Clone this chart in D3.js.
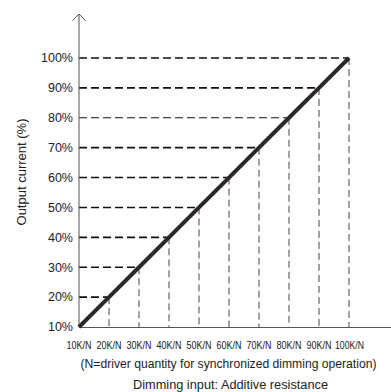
<!DOCTYPE html>
<html><head><meta charset="utf-8">
<script src="https://cdn.jsdelivr.net/npm/d3@7"></script>
<style>body{margin:0;background:#fff}svg{display:block}</style>
</head><body><div id="c"></div>
<script>
const resistance = [10,20,30,40,50,60,70,80,90,100];
const xLabels = ["10K/N","20K/N","30K/N","40K/N","50K/N","60K/N","70K/N","80K/N","90K/N","100K/N"];
const current = [10,20,30,40,50,60,70,80,90,100];
const yLabels = ["10%","20%","30%","40%","50%","60%","70%","80%","90%","100%"];
const hThick = [false,true,true,true,true,true,true,false,true,true];

const W=391,H=392;
const svg=d3.select("#c").append("svg").attr("width",W).attr("height",H);
const x=d3.scaleLinear().domain([10,100]).range([79,349]);
const y=d3.scaleLinear().domain([10,100]).range([327,58]);
const FONT="Liberation Sans, Arial, sans-serif";

// horizontal dashed guides
svg.selectAll(".hg").data(current.slice(1)).enter().append("line")
 .attr("x1",x(10)).attr("x2",(d,i)=>x(resistance[i+1])).attr("y1",d=>y(d)).attr("y2",d=>y(d))
 .attr("stroke","#111").attr("stroke-width",(d,i)=>hThick[i+1]?1.6:1)
 .attr("stroke-dasharray","8,4");
// vertical dashed guides
svg.selectAll(".vg").data(resistance.slice(1)).enter().append("line")
 .attr("x1",d=>x(d)).attr("x2",d=>x(d)).attr("y1",(d,i)=>y(current[i+1])).attr("y2",y(10))
 .attr("stroke","#444").attr("stroke-width",1).attr("stroke-dasharray","7,4");

// axes
svg.append("line").attr("x1",79).attr("x2",79).attr("y1",14).attr("y2",327).attr("stroke","#555").attr("stroke-width",1);
svg.append("path").attr("d","M72.5,20.5 L79,14 L85.5,20.5").attr("fill","none").attr("stroke","#555").attr("stroke-width",1);
svg.append("line").attr("x1",79).attr("x2",391).attr("y1",327.5).attr("y2",327.5).attr("stroke","#555").attr("stroke-width",1);

// main line
const line=d3.line().x(d=>x(d[0])).y(d=>y(d[1]));
svg.append("path").datum(resistance.map((r,i)=>[r,current[i]])).attr("d",line)
 .attr("fill","none").attr("stroke","#2e2727").attr("stroke-width",4);

// y tick labels
svg.selectAll(".yl").data(current).enter().append("text")
 .attr("x",73).attr("y",d=>y(d)).attr("dy","0.35em").attr("text-anchor","end")
 .attr("font-family",FONT).attr("font-size",12.5).attr("fill","#222")
 .text((d,i)=>yLabels[i]);
// x tick labels
svg.selectAll(".xl").data(resistance).enter().append("text")
 .attr("x",(d,i)=>x(d)+(xLabels[i].length>5?0.5:0)).attr("y",349).attr("text-anchor","middle")
 .attr("font-family",FONT).attr("font-size",11).attr("fill","#222")
 .attr("textLength",(d,i)=>xLabels[i].length>5?29:25).attr("lengthAdjust","spacingAndGlyphs")
 .text((d,i)=>xLabels[i]);

svg.append("text").attr("x",228.5).attr("y",368).attr("text-anchor","middle")
 .attr("font-family",FONT).attr("font-size",12.5).attr("fill","#222")
 .attr("textLength",296).attr("lengthAdjust","spacingAndGlyphs")
 .text("(N=driver quantity for synchronized dimming operation)");
svg.append("text").attr("x",230.5).attr("y",388.5).attr("text-anchor","middle")
 .attr("font-family",FONT).attr("font-size",12.5).attr("fill","#222")
 .attr("textLength",195).attr("lengthAdjust","spacingAndGlyphs")
 .text("Dimming input: Additive resistance");
svg.append("text").attr("transform","translate(26,172) rotate(-90)").attr("text-anchor","middle")
 .attr("font-family",FONT).attr("font-size",13).attr("fill","#222")
 .text("Output current (%)");
</script></body></html>
